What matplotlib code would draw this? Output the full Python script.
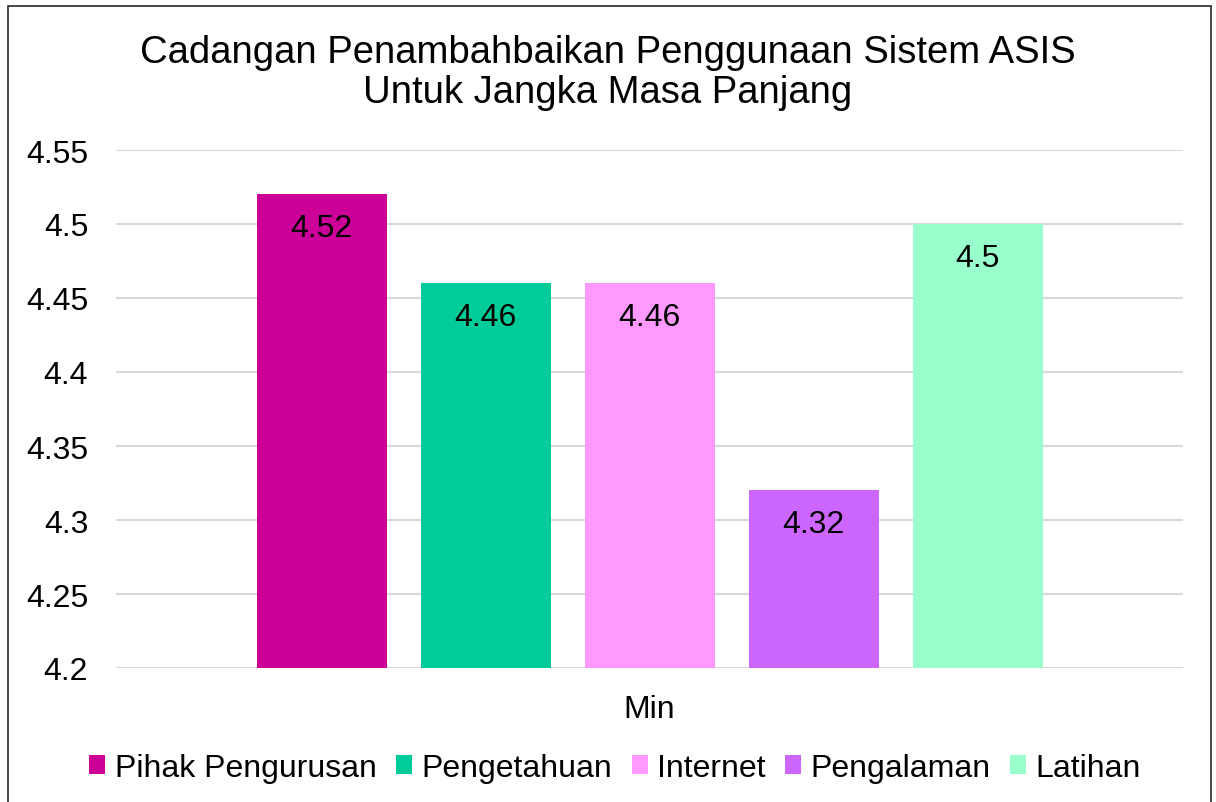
import matplotlib
matplotlib.use("Agg")
import matplotlib.pyplot as plt
from matplotlib.patches import Rectangle, Patch

plt.rcParams['font.family'] = ['Liberation Sans', 'DejaVu Sans']

title = "Cadangan Penambahbaikan Penggunaan Sistem ASIS\nUntuk Jangka Masa Panjang"
category = "Min"
series = ["Pihak Pengurusan", "Pengetahuan", "Internet", "Pengalaman", "Latihan"]
values = [4.52, 4.46, 4.46, 4.32, 4.5]
colors = ["#CC0099", "#00CC99", "#FF99FF", "#CC66FF", "#99FFCC"]
yticks = [4.2, 4.25, 4.3, 4.35, 4.4, 4.45, 4.5, 4.55]
ytick_labels = ["4.2", "4.25", "4.3", "4.35", "4.4", "4.45", "4.5", "4.55"]

W, H = 1216, 803
FS = 23
fig = plt.figure(figsize=(W / 100, H / 100), dpi=100)
ax = fig.add_axes([116 / W, 1 - 669 / H, (1183 - 116) / W, (669 - 151) / H])

bw = 130 / 1067
step = 164 / 1067
for i, (s, v, c) in enumerate(zip(series, values, colors)):
    x = (i - 2) * step
    ax.bar(x, v - 4.2, bottom=4.2, width=bw, color=c, label=s, zorder=3)
    ax.annotate(f"{v:g}", (x, v), xytext=(0, -34), textcoords="offset pixels",
                ha="center", va="center", fontsize=FS, color="black", zorder=4)

ax.set_xlim(-0.5, 0.5)
ax.set_ylim(4.2, 4.55)
ax.set_yticks(yticks)
ax.set_yticklabels(ytick_labels, fontsize=FS)
ax.set_xticks([0])
ax.set_xticklabels([category], fontsize=FS)
ax.tick_params(axis="y", length=0, pad=20)
ax.tick_params(axis="x", length=0, pad=19)
ax.grid(axis="y", color="#D9D9D9", linewidth=1.5, zorder=0)
for sp in ax.spines.values():
    sp.set_visible(False)

fig.text(0.5, 1 - 73 / H, title, ha="center", va="center", fontsize=27.5,
         linespacing=1.15)

handles = [Patch(facecolor=c, label=s) for s, c in zip(series, colors)]
fig.legend(handles=handles, loc="center",
           bbox_to_anchor=(0.5 + 7 / W, 1 - 769 / H),
           ncol=5, frameon=False, fontsize=FS, handlelength=0.5,
           handleheight=0.55, handletextpad=0.3, columnspacing=0.6)

fig.patches.append(Rectangle((8 / W, -0.05), (1211 - 8) / W, 1.05 - 7 / H,
                             transform=fig.transFigure, fill=False,
                             edgecolor="#262626", linewidth=1.2))

fig.savefig("out.png", dpi=100)
